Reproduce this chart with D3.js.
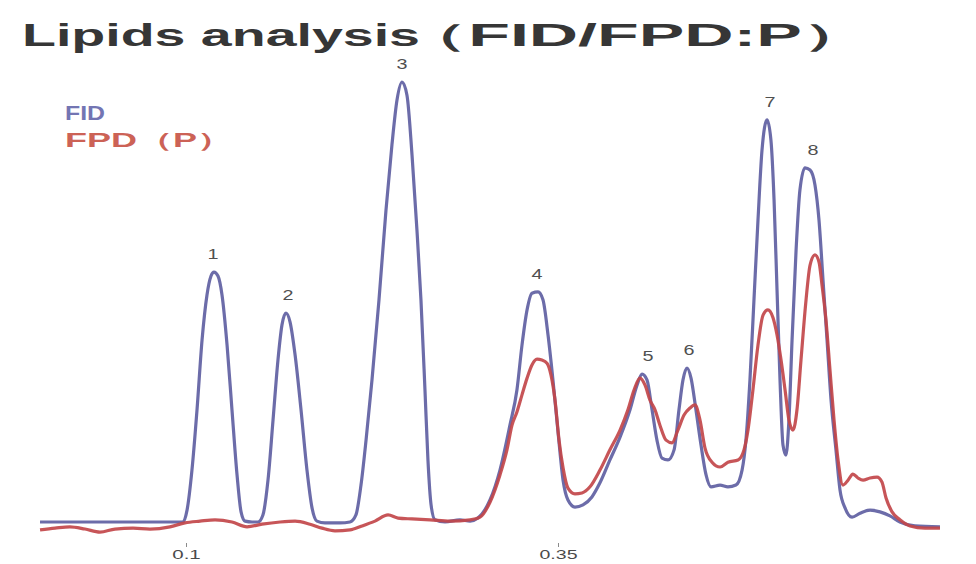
<!DOCTYPE html>
<html>
<head>
<meta charset="utf-8">
<script src="https://cdn.jsdelivr.net/npm/d3@7"></script>
<style>
  body { margin: 0; background: #fff; }
  svg { display: block; }
</style>
</head>
<body>
<svg id="chart" width="976" height="564"></svg>
<script>
// Chromatogram traces: [retention time, detector response (% of largest peak)]
const fidTrace = [
  [0.0019,0],[0.0980,0],[0.1007,2.7],[0.1040,11.8],[0.1074,25.5],[0.1108,41.4],[0.1141,51.6],
  [0.1168,55.9],[0.1188,56.8],[0.1215,55.9],[0.1242,51.6],[0.1276,40.2],[0.1309,25.5],[0.1343,10.7],
  [0.1370,2.3],[0.1397,0.2],[0.1444,0],[0.1484,0],[0.1517,1.6],[0.1551,9.5],[0.1585,23.2],
  [0.1618,36.8],[0.1645,44.8],[0.1672,47.5],[0.1699,45.5],[0.1733,38.0],[0.1773,25.5],[0.1813,11.8],
  [0.1847,3.2],[0.1880,0.2],[0.1934,-0.2],[0.2035,-0.2],[0.2102,0],[0.2142,1.6],[0.2176,8.4],
  [0.2210,18.6],[0.2250,32.3],[0.2297,50.5],[0.2344,70.9],[0.2384,85.7],[0.2418,95.9],[0.2452,100],
  [0.2485,97.0],[0.2519,83.4],[0.2552,66.4],[0.2579,50.5],[0.2606,30.0],[0.2626,14.1],[0.2647,3.9],
  [0.2673,0.5],[0.2741,0],[0.2841,0.5],[0.2909,0.2],[0.2962,0.9],[0.3043,5.0],[0.3110,11.8],
  [0.3177,22.0],[0.3224,30.0],[0.3258,40.2],[0.3292,48.2],[0.3325,52.0],[0.3366,52.3],[0.3399,50.5],
  [0.3433,42.5],[0.3466,32.3],[0.3500,20.5],[0.3534,9.5],[0.3567,5.0],[0.3614,3.4],[0.3668,3.9],
  [0.3728,5.7],[0.3782,8.9],[0.3849,14.1],[0.3917,19.3],[0.3984,25.5],[0.4031,31.1],[0.4065,33.6],
  [0.4098,32.3],[0.4132,25.5],[0.4165,18.6],[0.4199,14.5],[0.4239,14.1],[0.4280,16.4],[0.4313,25.5],
  [0.4340,32.3],[0.4367,35.0],[0.4394,32.7],[0.4427,25.5],[0.4461,17.5],[0.4495,10.7],[0.4528,8.0],
  [0.4589,8.4],[0.4642,8.0],[0.4696,8.4],[0.4737,11.8],[0.4763,18.6],[0.4790,32.3],[0.4817,50.5],
  [0.4844,68.6],[0.4871,84.5],[0.4905,91.4],[0.4931,86.8],[0.4952,73.2],[0.4972,52.7],[0.4992,32.3],
  [0.5012,17.5],[0.5032,15.2],[0.5052,23.2],[0.5073,41.4],[0.5100,61.8],[0.5126,75.5],[0.5160,80.5],
  [0.5194,80.0],[0.5227,76.6],[0.5254,68.6],[0.5281,55.0],[0.5308,41.4],[0.5335,27.7],[0.5368,16.4],
  [0.5395,7.3],[0.5429,3.2],[0.5476,1.1],[0.5530,2.0],[0.5597,2.7],[0.5664,2.3],[0.5731,1.4],
  [0.5798,0],[0.5899,-0.9],[0.6067,-1.1]
];

const fpdTrace = [
  [0.0019,-1.8],[0.0120,-1.4],[0.0220,-1.1],[0.0321,-1.6],[0.0422,-2.3],[0.0523,-1.6],[0.0644,-1.4],
  [0.0758,-1.6],[0.0892,-1.1],[0.0993,-0.2],[0.1094,0.2],[0.1195,0.5],[0.1309,0],[0.1410,-1.1],
  [0.1511,-0.5],[0.1632,0],[0.1733,0.2],[0.1833,-0.5],[0.1914,-1.4],[0.2001,-2.0],[0.2102,-1.8],
  [0.2183,-0.9],[0.2270,0.2],[0.2358,1.6],[0.2425,0.9],[0.2519,0.7],[0.2640,0.5],[0.2774,0.2],
  [0.2909,0.5],[0.2976,1.1],[0.3043,4.5],[0.3110,10.7],[0.3157,16.4],[0.3191,22.0],[0.3224,25.0],
  [0.3258,28.9],[0.3292,32.7],[0.3325,35.7],[0.3359,37.0],[0.3392,36.8],[0.3426,36.1],[0.3453,33.4],
  [0.3480,27.7],[0.3507,18.6],[0.3534,12.3],[0.3567,7.7],[0.3614,6.4],[0.3661,6.6],[0.3715,8.0],
  [0.3782,11.8],[0.3849,16.4],[0.3917,20.9],[0.3970,25.5],[0.4011,30.0],[0.4051,32.7],[0.4085,31.1],
  [0.4118,27.7],[0.4152,25.5],[0.4185,22.0],[0.4226,18.6],[0.4266,18.0],[0.4306,20.9],[0.4347,24.3],
  [0.4387,25.9],[0.4421,26.6],[0.4454,23.2],[0.4488,16.8],[0.4535,13.6],[0.4589,12.5],[0.4642,13.6],
  [0.4710,14.1],[0.4750,16.4],[0.4777,20.9],[0.4810,30.0],[0.4844,40.2],[0.4878,47.0],[0.4911,48.2],
  [0.4945,46.4],[0.4972,42.5],[0.4999,36.8],[0.5026,30.0],[0.5052,23.2],[0.5079,20.9],[0.5106,25.5],
  [0.5133,36.8],[0.5167,50.5],[0.5194,58.4],[0.5227,60.7],[0.5254,59.1],[0.5274,53.9],[0.5301,45.9],
  [0.5328,34.5],[0.5355,23.2],[0.5382,14.1],[0.5415,8.4],[0.5449,9.5],[0.5482,10.9],[0.5516,10.0],
  [0.5550,9.5],[0.5597,10.0],[0.5644,10.2],[0.5677,9.1],[0.5704,5.5],[0.5745,2.3],[0.5798,0.5],
  [0.5866,-0.9],[0.5966,-1.4],[0.6067,-1.4]
];

// Peak numbering: label time and apex response
const peakNames   = ["1", "2", "3", "4", "5", "6", "7", "8"];
const peakTimes   = [0.1181, 0.1685, 0.2452, 0.3359, 0.4105, 0.4380, 0.4925, 0.5214];
const peakHeights = [56.8, 47.5, 100, 52.3, 33.6, 35.0, 91.4, 80.5];

const tickTimes  = [0.1, 0.35];
const tickLabels = ["0.1", "0.35"];

const seriesNames  = ["FID", "FPD（P）"];
const seriesColors = ["#6c6ca9", "#c2474a"];
const legendColors = ["#7375b3", "#cc6256"];

const titleMain   = "Lipids analysis";
const titleDetail = "（FID/FPD:P）";

const svg = d3.select("#chart");
svg.append("rect").attr("width", 976).attr("height", 564).attr("fill", "#fff");

const x = d3.scaleLinear().domain([0.1, 0.35]).range([186, 558]);
const y = d3.scaleLinear().domain([0, 100]).range([522, 82]);

const sans = "'Liberation Sans', Arial, sans-serif";

// Title, widened to the page's wide aspect
const title = svg.append("text")
  .attr("y", 46)
  .attr("font-family", sans)
  .attr("font-weight", "bold")
  .attr("font-size", 31)
  .attr("fill", "#363636");
title.append("tspan")
  .attr("x", 22)
  .attr("textLength", 398)
  .attr("lengthAdjust", "spacingAndGlyphs")
  .text(titleMain);
title.append("tspan")
  .attr("x", 400)
  .attr("textLength", 470)
  .attr("lengthAdjust", "spacingAndGlyphs")
  .text(titleDetail);

// Legend
const legendWidths = [40, 168];
svg.selectAll("text.legend")
  .data(seriesNames)
  .join("text")
  .attr("class", "legend")
  .attr("x", 65)
  .attr("y", (d, i) => 120 + i * 27)
  .attr("font-family", sans)
  .attr("font-weight", "bold")
  .attr("font-size", 20)
  .attr("fill", (d, i) => legendColors[i])
  .attr("textLength", (d, i) => legendWidths[i])
  .attr("lengthAdjust", "spacingAndGlyphs")
  .text(d => d);

// Time axis: two marked retention times, no axis line
const axis = d3.axisBottom(x)
  .tickValues(tickTimes)
  .tickFormat((d, i) => tickLabels[i])
  .tickSize(4)
  .tickPadding(3);

const gAxis = svg.append("g").attr("transform", "translate(0,543)").call(axis);
gAxis.select(".domain").remove();
gAxis.selectAll(".tick line").attr("stroke", "#8a8a8a").attr("stroke-width", 1);
gAxis.selectAll(".tick text")
  .attr("font-family", sans)
  .attr("font-size", 13)
  .attr("fill", "#4a4a4a")
  .attr("textLength", (d, i) => tickLabels[i].length * 9.5)
  .attr("lengthAdjust", "spacingAndGlyphs");

// Traces
const line = d3.line()
  .x(d => x(d[0]))
  .y(d => y(d[1]))
  .curve(d3.curveMonotoneX);

svg.append("path")
  .datum(fidTrace)
  .attr("d", line)
  .attr("fill", "none")
  .attr("stroke", seriesColors[0])
  .attr("stroke-width", 3.2)
  .attr("stroke-linejoin", "round");

svg.append("path")
  .datum(fpdTrace)
  .attr("d", line)
  .attr("fill", "none")
  .attr("stroke", seriesColors[1])
  .attr("stroke-width", 3.2)
  .attr("stroke-opacity", 0.92)
  .attr("stroke-linejoin", "round");

// Peak numbers above each apex
svg.selectAll("text.peak")
  .data(peakNames)
  .join("text")
  .attr("class", "peak")
  .attr("x", (d, i) => x(peakTimes[i]))
  .attr("y", (d, i) => y(peakHeights[i]) - 13)
  .attr("text-anchor", "middle")
  .attr("font-family", sans)
  .attr("font-size", 14)
  .attr("fill", "#505050")
  .attr("textLength", 11)
  .attr("lengthAdjust", "spacingAndGlyphs")
  .text(d => d);
</script>
</body>
</html>
